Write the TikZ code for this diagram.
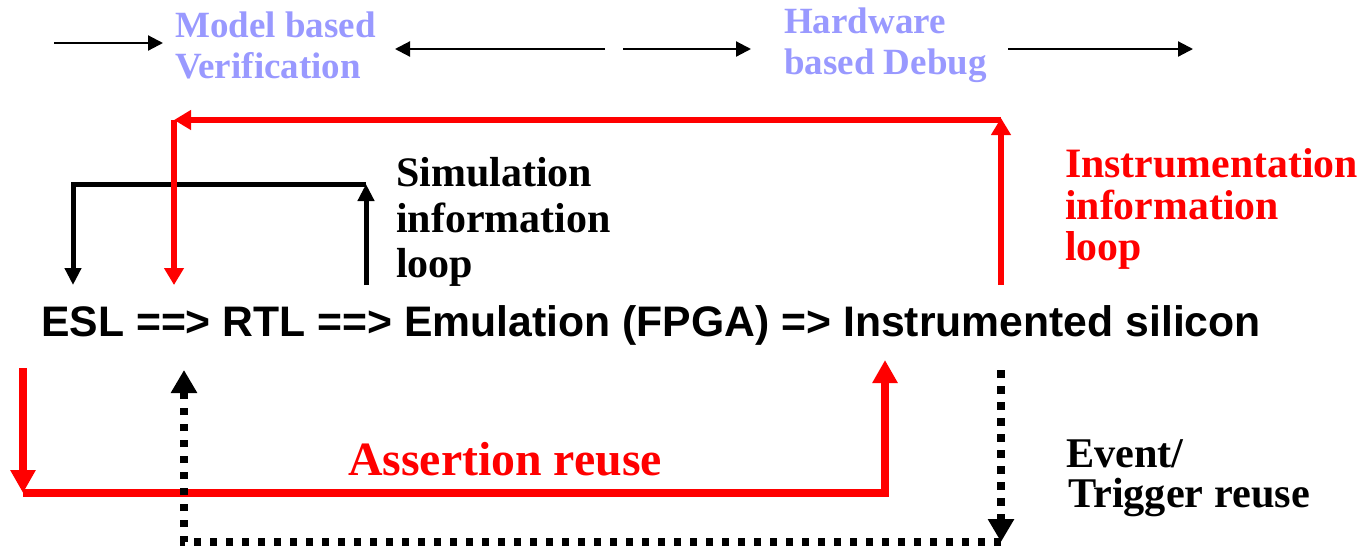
\documentclass[tikz,border=0pt]{standalone}
\usepackage{fontspec}
\setmainfont{Liberation Serif}
\newfontfamily\flowfont{Liberation Sans}
\usetikzlibrary{arrows.meta}
\definecolor{phasecol}{RGB}{153,153,255}
\definecolor{loopred}{RGB}{255,0,0}
\begin{document}
\begin{tikzpicture}[x=1pt,y=-1pt,
  txt/.style={inner sep=0pt, anchor=base west,
    font=\bfseries\fontsize{#1}{#1}\selectfont},
  phase/.style={txt=37, text=phasecol},
  simtxt/.style={txt=42, text=black},
  redtxt/.style={txt=41.8, text=loopred},
  flowtxt/.style={inner sep=0pt, anchor=base west,
    font=\flowfont\bfseries\fontsize{42.7}{42.7}\selectfont},
  toparrow/.style={line width=2.2pt, -{Triangle[length=15pt,width=15pt]}},
  simloop/.style={line width=5pt},
  simtip/.style={simloop, -{Triangle[length=17pt,width=16pt]}},
  instloop/.style={loopred, line width=6.5pt},
  insttip/.style={instloop, -{Triangle[length=17pt,width=19pt]}},
  assertloop/.style={loopred, line width=7.5pt},
  asserttip/.style={assertloop, -{Triangle[length=23pt,width=24pt]}},
  reuseloop/.style={line width=7.5pt, dash pattern=on 7.5pt off 8.5pt},
  reusetip/.style={reuseloop, -{Triangle[length=23pt,width=25pt]}}]

\path[use as bounding box] (0,0) rectangle (1368,547);

% phase labels along the top
\node[phase] (mb1) at (175,37) {Model based};
\node[phase] (mb2) at (175,78) {Verification};
\node[phase] (hw1) at (784,33) {Hardware};
\node[phase] (hw2) at (784,74) {based Debug};

\coordinate (a1s) at (54,43);   \coordinate (a1e) at (163,43);
\coordinate (a2s) at (605,49);  \coordinate (a2e) at (395,49);
\coordinate (a3s) at (623,49);  \coordinate (a3e) at (751,49);
\coordinate (a4s) at (1008,49); \coordinate (a4e) at (1193,49);
\draw[toparrow] (a1s) -- (a1e);
\draw[toparrow] (a2s) -- (a2e);
\draw[toparrow] (a3s) -- (a3e);
\draw[toparrow] (a4s) -- (a4e);

% design flow
\node[flowtxt] (flow) at (41,336) {ESL ==> RTL ==> Emulation (FPGA) => Instrumented silicon};

% simulation information loop
\coordinate (simA) at (366,285);
\coordinate (simB) at (366,184);
\coordinate (simC) at (73,184);
\coordinate (simD) at (73,285);
\draw[simtip] (simA) -- (simB);
\draw[simtip] (simB) -- (simC) -- (simD);
\node[simtxt] (sim1) at (396,186) {Simulation};
\node[simtxt] (sim2) at (396,232) {information};
\node[simtxt] (sim3) at (396,277) {loop};

% instrumentation information loop
\coordinate (insA) at (1001,285);
\coordinate (insB) at (1001,118);
\coordinate (insC) at (1001,120);
\coordinate (insD) at (174,120);
\coordinate (insE) at (174,285);
\draw[insttip] (insA) -- (insB);
\draw[insttip] (insC) -- (insD);
\draw[insttip] (insD) -- (insE);
\node[redtxt] (ins1) at (1065,177) {Instrumentation};
\node[redtxt] (ins2) at (1065,219) {information};
\node[redtxt] (ins3) at (1065,260) {loop};

% assertion reuse
\coordinate (asA) at (23,368);
\coordinate (asB) at (23,493);
\coordinate (asC) at (885,493);
\coordinate (asD) at (885,360);
\draw[asserttip] (asA) -- (asB);
\draw[asserttip] (asB) -- (asC) -- (asD);
\node[txt=47.8, text=loopred] (assert) at (348,475) {Assertion reuse};

% event / trigger reuse
\coordinate (evA) at (1001,370);
\coordinate (evB) at (1001,542);
\coordinate (evC) at (184,542);
\coordinate (evD) at (184,370);
\draw[reusetip] (evA) -- (evB);
\draw[reusetip] (evB) -- (evC) -- (evD);
\node[txt=42.3] (ev1) at (1066,467) {Event/};
\node[txt=42.3] (ev2) at (1068,507) {Trigger reuse};
\end{tikzpicture}
\end{document}
